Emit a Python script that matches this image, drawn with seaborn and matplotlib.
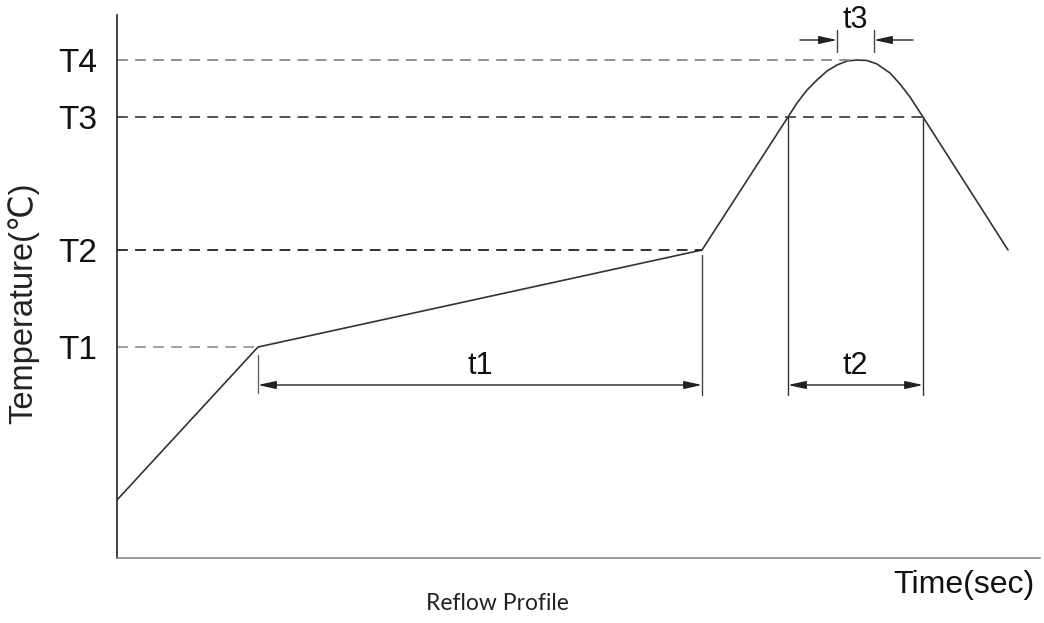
import matplotlib
matplotlib.use('Agg')
import matplotlib.pyplot as plt
import seaborn as sns
import pandas as pd

# reflow profile (arbitrary units)
time = [0, 141, 585, 671, 680, 690, 700, 710, 720, 730, 740, 750, 760, 773, 783, 793, 806, 891]
temp = [58, 211, 308, 441, 455, 468, 478, 487, 493, 497, 498, 497.5, 494, 485, 474, 461, 441, 308]

# temperature levels and where their guide lines stop
levels = [211, 308, 441, 498]
level_labels = ['T1', 'T2', 'T3', 'T4']
level_ends = [141, 585, 806, 736]
level_colors = ['#999999', '#222222', '#444444', '#888888']

# time spans (start, end) and their labels
spans = [(141, 585), (671, 806)]
span_labels = ['t1', 't2']
peak_span = (720, 757)

sns.set_theme(style='white')
plt.rcParams['font.family'] = ['Liberation Sans', 'DejaVu Sans']

fig = plt.figure(figsize=(10.44, 6.23), dpi=100)
ax = fig.add_axes([117 / 1044, 65 / 623, 923 / 1044, 543 / 623])

df = pd.DataFrame({'time': time, 'temp': temp})
sns.lineplot(data=df, x='time', y='temp', ax=ax, color='#333333', linewidth=1.2, sort=False)

# dashed level lines
for lv, end, c in zip(levels, level_ends, level_colors):
    ax.plot([0, end], [lv, lv], color=c, linewidth=1.3, linestyle=(0, (6, 4)))

# vertical extension lines
ax.plot([spans[0][0], spans[0][0]], [levels[0] - 8, 165], color='#666666', linewidth=1)
ax.plot([spans[0][1], spans[0][1]], [levels[1] - 5, 163], color='#444444', linewidth=1)
for x in spans[1]:
    ax.plot([x, x], [levels[2], 163], color='#333333', linewidth=1)

# dimension arrows
arr_y = 173
for (a, b), lab in zip(spans, span_labels):
    ax.annotate('', xy=(b, arr_y), xytext=(a, arr_y),
                arrowprops=dict(arrowstyle='<|-|>,head_length=0.9,head_width=0.2',
                                color='#222222', linewidth=1, shrinkA=0, shrinkB=0))
    ax.text((a + b) / 2, 192, lab, ha='center', va='center', fontsize=22, color='#111111')

# t3 at the peak
for x in peak_span:
    ax.plot([x, x], [506, 528], color='#444444', linewidth=1, clip_on=False)
ax.annotate('', xy=(peak_span[0], 518), xytext=(peak_span[0] - 37, 518),
            arrowprops=dict(arrowstyle='-|>,head_length=0.9,head_width=0.2',
                            color='#222222', linewidth=1, shrinkA=0, shrinkB=0), annotation_clip=False)
ax.annotate('', xy=(peak_span[1], 518), xytext=(peak_span[1] + 39, 518),
            arrowprops=dict(arrowstyle='-|>,head_length=0.9,head_width=0.2',
                            color='#222222', linewidth=1, shrinkA=0, shrinkB=0), annotation_clip=False)
ax.text(sum(peak_span) / 2, 538, 't3', ha='center', va='center', fontsize=22, color='#111111', clip_on=False)

ax.set_xlim(0, 923)
ax.set_ylim(0, 543)
ax.set_xticks([])
ax.set_yticks(levels)
ax.set_yticklabels(level_labels, fontsize=24, color='#111111')
ax.tick_params(axis='y', length=0, pad=14)
ax.set_xlabel('')
ax.set_ylabel('Temperature(℃)', fontsize=23.5, color='#222222')
ax.yaxis.set_label_coords(-0.084, 0.47)

for s in ['top', 'right']:
    ax.spines[s].set_visible(False)
ax.spines['left'].set_color('#222222')
ax.spines['left'].set_linewidth(1.2)
ax.spines['bottom'].set_color('#888888')
ax.spines['bottom'].set_linewidth(1.2)

fig.text(1035 / 1044, 1 - 585 / 623, 'Time(sec)', ha='right', va='center', fontsize=23, color='#111111')
fig.text(497 / 1044, 1 - 604 / 623, 'Reflow Profile', ha='center', va='center', fontsize=16.5,
         color='#222222', family=['Lato', 'DejaVu Sans'])

fig.savefig('out.png', dpi=100)
